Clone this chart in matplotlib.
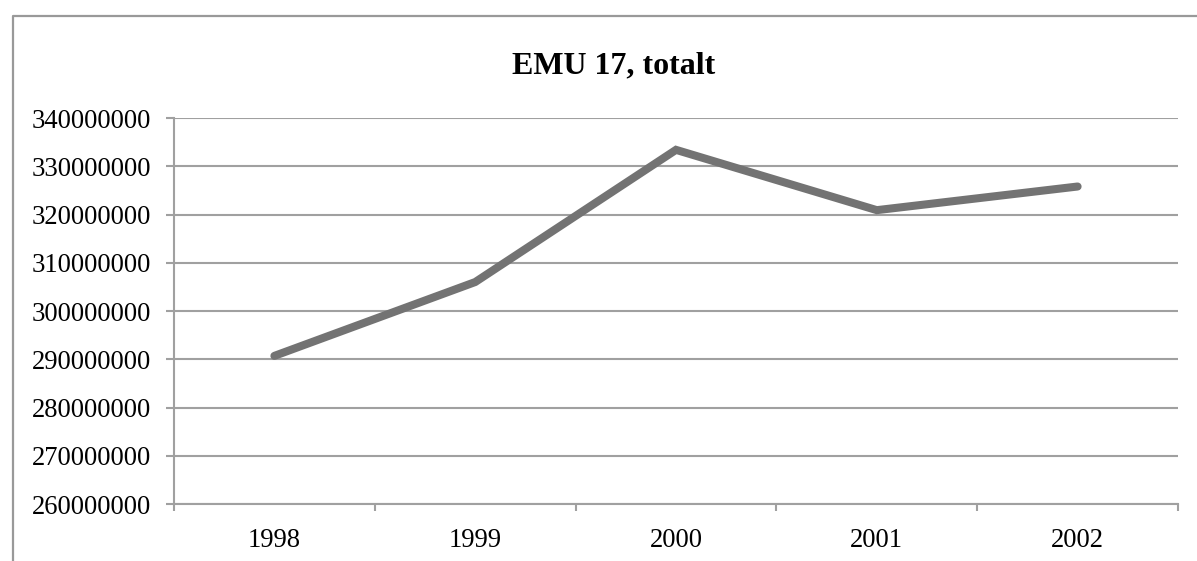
import numpy as np
import matplotlib.pyplot as plt
from matplotlib.lines import Line2D

years = ["1998", "1999", "2000", "2001", "2002"]
totals = [290700000, 306000000, 333400000, 320900000, 325800000]
y_ticks = [260000000, 270000000, 280000000, 290000000, 300000000,
           310000000, 320000000, 330000000, 340000000]

W, H = 1197, 561
grey = "#a0a0a0"

plt.rcParams["font.family"] = ["Liberation Serif", "DejaVu Serif"]

fig = plt.figure(figsize=(W / 100, H / 100), dpi=100)
ax = fig.add_axes([174 / W, 1 - 504 / H, (1178 - 174) / W, (504 - 118) / H])

x = np.arange(len(years))
ax.plot(x, totals, color="#737373", lw=5.8, solid_capstyle="round",
        solid_joinstyle="miter", zorder=3)

ax.set_xlim(-0.5, len(years) - 0.5)
ax.set_ylim(y_ticks[0], y_ticks[-1])
ax.set_yticks(y_ticks)
ax.set_yticklabels([str(v) for v in y_ticks])
ax.set_xticks(x)
ax.set_xticklabels(years)
ax.set_xticks(np.arange(-0.5, len(years)), minor=True)

ax.yaxis.grid(True, color=grey, lw=1.5)
ax.set_axisbelow(True)

for s in ["top", "right"]:
    ax.spines[s].set_visible(False)
for s in ["left", "bottom"]:
    ax.spines[s].set_color(grey)
    ax.spines[s].set_linewidth(1.5)

ax.tick_params(axis="y", length=5.8, width=1.5, color=grey, pad=11,
               labelsize=19.2)
ax.tick_params(axis="x", which="major", length=0, pad=17, labelsize=19.2)
ax.tick_params(axis="x", which="minor", length=5, width=1.5, color=grey)

fig.text(613.5 / W, 1 - 73 / H, "EMU 17, totalt", ha="center", va="baseline",
         fontsize=23, fontweight="bold")

# chart frame (cropped at right and bottom)
bx, by = 13 / W, 1 - 16 / H
fig.add_artist(Line2D([bx, bx, 1.0], [0.0, by, by], color="#999999", lw=1.6,
                      transform=fig.transFigure))

fig.savefig("out.png", dpi=100)
